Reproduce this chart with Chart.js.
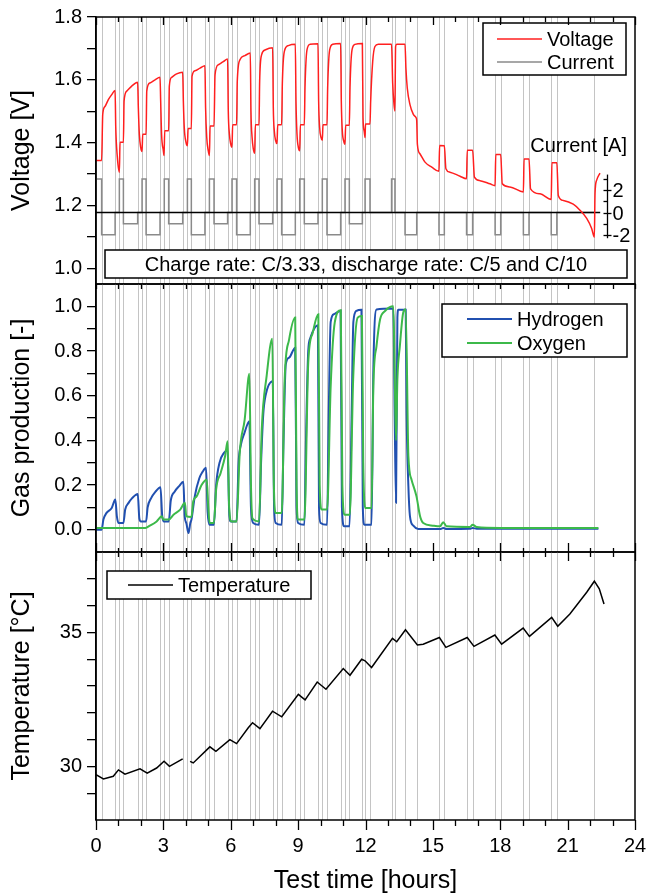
<!DOCTYPE html>
<html>
<head>
<meta charset="utf-8">
<script src="https://cdn.jsdelivr.net/npm/chart.js@4.4.1/dist/chart.umd.min.js"></script>
<style>
html, body { margin: 0; padding: 0; background: #fff; }
#wrap { position: relative; width: 647px; height: 896px; }
canvas { position: absolute; left: 0; top: 0; }
</style>
</head>
<body>
<div id="wrap">
  <canvas id="cVolt" width="647" height="896"></canvas>
  <canvas id="cGas" width="647" height="896"></canvas>
  <canvas id="cTemp" width="647" height="896"></canvas>
</div>
<script>
// ---- data (time in hours) ----
const hourTicks = [0,1,2,3,4,5,6,7,8,9,10,11,12,13,14,15,16,17,18,19,20,21,22,23,24];
const xLabelTicks = [0,3,6,9,12,15,18,21,24];

// step boundaries (grey vertical lines)
const stepTimes = [0.25,0.85,1.04,1.22,1.855,2.05,2.23,2.85,3.04,3.235,3.86,4.07,4.245,4.85,5.05,5.255,
  5.86,6.055,6.26,6.87,7.065,7.257,7.866,8.06,8.266,8.875,9.07,9.276,9.884,10.077,10.285,10.893,11.087,
  11.28,11.86,11.98,12.2,13.16,13.31,13.76,14.28,15.27,15.51,16.5,16.77,17.77,18.02,19.03,19.28,20.27,20.52,22.19];

const voltTicks = [1.0,1.1,1.2,1.3,1.4,1.5,1.6,1.7,1.8];
const gasTicks = [0.0,0.1,0.2,0.3,0.4,0.5,0.6,0.7,0.8,0.9,1.0];
const tempTicks = [29,30,31,32,33,34,35,36,37];
const tempLabels = [30,35];
const currentAxisTicks = [-2,-1,0,1,2,3];
const currentAxisLabels = [-2,0,2];

const voltage = [
  [0,1.343],[0.25,1.343],[0.30,1.49],[0.40,1.515],[0.55,1.537],[0.70,1.553],[0.85,1.566],
  [0.88,1.448],[0.95,1.354],[1.04,1.306],[1.07,1.401],[1.22,1.401],
  [1.25,1.532],[1.37,1.564],[1.59,1.580],[1.855,1.592],[1.885,1.511],[1.93,1.427],[1.99,1.385],[2.05,1.372],[2.08,1.427],[2.23,1.427],
  [2.26,1.564],[2.40,1.590],[2.63,1.600],[2.85,1.608],[2.88,1.532],[2.92,1.427],[3.00,1.374],[3.03,1.359],[3.06,1.438],[3.235,1.438],
  [3.265,1.580],[3.37,1.608],[3.59,1.619],[3.86,1.624],[3.89,1.532],[3.93,1.448],[4.01,1.400],[4.07,1.390],[4.10,1.445],[4.245,1.445],
  [4.275,1.611],[4.41,1.629],[4.63,1.637],[4.85,1.645],[4.88,1.511],[4.93,1.417],[5.00,1.374],[5.05,1.359],[5.08,1.453],[5.255,1.453],
  [5.30,1.616],[5.45,1.648],[5.67,1.658],[5.86,1.666],[5.89,1.501],[5.94,1.427],[6.00,1.395],[6.055,1.385],[6.085,1.457],[6.26,1.457],
  [6.29,1.595],[6.41,1.664],[6.63,1.677],[6.87,1.685],[6.90,1.501],[6.95,1.417],[7.005,1.380],[7.065,1.366],[7.095,1.457],[7.257,1.457],
  [7.287,1.595],[7.376,1.680],[7.524,1.695],[7.866,1.702],[7.895,1.511],[7.94,1.437],[8.00,1.406],[8.06,1.397],[8.09,1.457],[8.266,1.457],
  [8.296,1.585],[8.385,1.690],[8.563,1.709],[8.875,1.713],[8.905,1.532],[8.95,1.427],[9.01,1.385],[9.07,1.374],[9.10,1.457],[9.276,1.457],
  [9.306,1.574],[9.394,1.695],[9.528,1.713],[9.884,1.715],[9.914,1.532],[9.958,1.448],[10.018,1.417],[10.077,1.408],[10.107,1.457],[10.285,1.457],
  [10.315,1.574],[10.404,1.695],[10.537,1.713],[10.893,1.716],[10.923,1.532],[10.968,1.437],[11.027,1.406],[11.087,1.395],[11.116,1.455],[11.28,1.455],
  [11.31,1.574],[11.40,1.695],[11.53,1.713],[11.86,1.716],[11.89,1.480],[11.94,1.437],[11.98,1.416],[12.0,1.459],[12.2,1.459],
  [12.23,1.532],[12.32,1.658],[12.42,1.706],[12.57,1.713],[13.16,1.713],[13.21,1.590],[13.27,1.521],[13.31,1.501],[13.34,1.706],[13.39,1.713],
  [13.76,1.713],[13.80,1.637],[13.86,1.574],[13.98,1.521],[14.13,1.490],[14.25,1.480],[14.28,1.471],
  [14.31,1.395],[14.43,1.364],[14.65,1.338],[14.95,1.322],[15.27,1.309],[15.30,1.391],[15.51,1.390],
  [15.58,1.317],[15.76,1.306],[16.21,1.293],[16.50,1.285],[16.53,1.376],[16.77,1.376],
  [16.85,1.290],[17.10,1.279],[17.54,1.269],[17.77,1.263],[17.80,1.362],[18.02,1.362],
  [18.09,1.269],[18.43,1.259],[19.03,1.243],[19.06,1.348],[19.28,1.348],
  [19.35,1.253],[19.77,1.237],[20.27,1.219],[20.30,1.336],[20.52,1.336],
  [20.585,1.232],[20.81,1.216],[21.25,1.204],[21.55,1.185],[21.85,1.159],[22.07,1.127],[22.19,1.099],
  [22.22,1.238],[22.29,1.280],[22.44,1.303]
];

const currentSteps = [
  [0,0],[0.25,3],[0.85,-2],[1.04,0],[1.22,3],[1.855,-1],[2.05,0],[2.23,3],[2.85,-2],[3.04,0],[3.235,3],[3.86,-1],[4.07,0],
  [4.245,3],[4.85,-2],[5.05,0],[5.255,3],[5.86,-1],[6.055,0],[6.26,3],[6.87,-2],[7.065,0],[7.257,3],[7.866,-1],[8.06,0],
  [8.266,3],[8.875,-2],[9.07,0],[9.276,3],[9.884,-1],[10.077,0],[10.285,3],[10.893,-2],[11.087,0],[11.28,3],[11.86,-1],[11.98,0],
  [12.2,3],[13.16,0],[13.31,3],[13.76,0],[14.28,-2],[15.27,0],[15.51,-2],[16.5,0],[16.77,-2],[17.77,0],[18.02,-2],[19.03,0],
  [19.28,-2],[20.27,0],[20.52,-2],[22.19,0]
];
const zeroLine = [[0,0],[22.45,0]];

const hydrogen = [
  [0,0],[0.25,0],[0.33,0.045],[0.47,0.075],[0.7,0.097],[0.86,0.135],[0.93,0.06],[1.0,0.03],[1.22,0.03],
  [1.3,0.09],[1.45,0.12],[1.6,0.14],[1.86,0.16],[1.93,0.05],[2.0,0.037],[2.23,0.037],
  [2.3,0.1],[2.45,0.14],[2.65,0.17],[2.87,0.19],[2.95,0.06],[3.03,0.037],[3.24,0.037],
  [3.33,0.13],[3.5,0.17],[3.7,0.195],[3.89,0.214],[3.95,0.06],[4.02,0.03],[4.12,-0.015],[4.2,0.03],[4.25,0.045],
  [4.4,0.15],[4.6,0.23],[4.75,0.26],[4.9,0.277],[4.97,0.08],[5.05,0.022],[5.25,0.022],
  [5.35,0.2],[5.5,0.3],[5.7,0.344],[5.86,0.356],[5.93,0.08],[6.0,0.037],[6.26,0.037],
  [6.35,0.3],[6.45,0.38],[6.6,0.43],[6.83,0.486],[6.9,0.1],[7.0,0.03],[7.26,0.022],
  [7.35,0.3],[7.45,0.52],[7.55,0.6],[7.87,0.665],[7.93,0.1],[8.0,0.03],[8.27,0.022],
  [8.35,0.4],[8.45,0.74],[8.6,0.77],[8.87,0.815],[8.93,0.1],[9.0,0.03],[9.28,0.022],
  [9.35,0.4],[9.45,0.8],[9.55,0.86],[9.88,0.915],[9.93,0.1],[10.0,0.03],[10.29,0.022],
  [10.36,0.5],[10.45,0.93],[10.6,0.965],[10.89,0.98],[10.95,0.1],[11.05,0.015],[11.29,0.015],
  [11.38,0.5],[11.46,0.93],[11.6,0.98],[11.82,0.985],[11.88,0.1],[11.95,0.022],[12.27,0.022],
  [12.35,0.717],[12.49,0.986],[13.24,0.99],[13.3,0.5],[13.36,0.12],[13.42,0.95],[13.46,0.985],[13.79,0.985],
  [13.83,0.523],[13.91,0.194],[13.98,0.06],[14.13,0.018],[14.35,0.003],[15.32,0.003],[15.46,0.007],[15.61,0.003],
  [16.65,0.004],[16.77,0.008],[16.95,0.004],[22.37,0.004]
];

const oxygen = [
  [0,0.008],[2.2,0.008],[2.4,0.018],[2.7,0.037],[2.93,0.06],[3.0,0.045],[3.24,0.045],[3.45,0.067],[3.75,0.09],[3.96,0.12],[4.02,0.06],[4.25,0.057],
  [4.33,0.127],[4.48,0.149],[4.7,0.2],[4.93,0.224],[5.0,0.1],[5.06,0.03],[5.25,0.03],
  [5.35,0.18],[5.55,0.254],[5.75,0.33],[5.86,0.396],[5.93,0.1],[6.03,0.037],[6.26,0.037],
  [6.4,0.344],[6.62,0.493],[6.83,0.698],[6.9,0.2],[6.97,0.05],[7.26,0.037],
  [7.38,0.448],[7.6,0.69],[7.85,0.855],[7.92,0.2],[8.0,0.075],[8.27,0.075],
  [8.4,0.673],[8.6,0.852],[8.87,0.95],[8.93,0.2],[9.0,0.045],[9.28,0.045],
  [9.45,0.747],[9.65,0.882],[9.9,0.964],[9.96,0.2],[10.05,0.09],[10.29,0.09],
  [10.45,0.643],[10.63,0.927],[10.9,0.982],[10.97,0.2],[11.07,0.067],[11.3,0.067],
  [11.45,0.673],[11.65,0.949],[11.84,0.957],[11.9,0.3],[12.0,0.097],[12.27,0.097],
  [12.35,0.643],[12.49,0.822],[12.65,0.942],[12.87,0.979],[13.24,1.0],[13.3,0.7],[13.36,0.4],[13.42,0.673],[13.53,0.822],[13.68,0.972],[13.79,0.987],
  [13.91,0.33],[14.05,0.224],[14.27,0.149],[14.43,0.06],[14.57,0.03],[15.0,0.018],[15.32,0.015],[15.46,0.033],[15.61,0.015],
  [16.65,0.012],[16.77,0.022],[16.95,0.012],[18.0,0.008],[22.37,0.008]
];

const temperature = [
  [0,29.69],[0.33,29.53],[0.77,29.63],[1.0,29.87],[1.29,29.71],[1.96,29.91],[2.28,29.75],[2.7,29.94],[3.03,30.19],[3.27,30.0],[3.86,30.28],
  [4.0,null],
  [4.19,30.19],[4.33,30.13],[5.07,30.73],[5.34,30.56],[5.96,31.0],[6.26,30.85],[6.78,31.44],[6.97,31.63],[7.3,31.41],
  [7.86,32.06],[8.27,31.85],[9.01,32.69],[9.31,32.48],[9.85,33.15],[10.24,32.88],[11.01,33.65],[11.31,33.4],[11.83,34.0],
  [11.98,33.94],[12.27,33.69],[13.2,34.78],[13.39,34.65],[13.78,35.1],[14.31,34.53],[14.57,34.56],[15.29,34.81],[15.58,34.44],
  [16.53,34.81],[16.83,34.48],[17.76,34.9],[18.06,34.56],[19.02,35.16],[19.3,34.85],[20.29,35.56],[20.56,35.23],[21.1,35.69],
  [21.85,36.5],[22.19,36.91],[22.41,36.63],[22.62,36.06]
];

// ---- drawing ----
const FONT = "'Liberation Sans', Arial, Helvetica, sans-serif";
Chart.defaults.font.family = FONT;
Chart.defaults.color = '#000';

const RED = '#ff1f1f', GREY = '#8a8a8a', BLUE = '#2150b0', GREEN = '#3cb94a';

function xy(p) { return { x: p[0], y: p[1] }; }

function drawBox(ctx, b) {
  const [x0, y0, x1, y1] = b.box;
  ctx.fillStyle = '#fff';
  ctx.fillRect(x0, y0, x1 - x0, y1 - y0);
  ctx.strokeStyle = '#000';
  ctx.lineWidth = 1.5;
  ctx.strokeRect(x0, y0, x1 - x0, y1 - y0);
}

function drawLegend(chart, lg) {
  const ctx = chart.ctx;
  drawBox(ctx, lg);
  ctx.font = '20px ' + FONT;
  ctx.textAlign = 'left';
  ctx.textBaseline = 'middle';
  lg.rows.forEach(r => {
    const ds = chart.data.datasets[r.ds];
    ctx.strokeStyle = ds.borderColor;
    ctx.lineWidth = ds.borderWidth;
    ctx.beginPath();
    ctx.moveTo(lg.line[0], r.y);
    ctx.lineTo(lg.line[1], r.y);
    ctx.stroke();
    ctx.fillStyle = '#000';
    ctx.fillText(ds.label, lg.textX, r.y + 1);
  });
}

function framePlugin(cfg) {
  return {
    id: 'frame',
    beforeDatasetsDraw(chart) {
      const { ctx, chartArea: a, scales: { x } } = chart;
      ctx.save();
      ctx.strokeStyle = '#c4c4c4';
      ctx.lineWidth = 1;
      stepTimes.forEach(t => {
        const px = Math.round(x.getPixelForValue(t)) + 0.5;
        ctx.beginPath();
        ctx.moveTo(px, a.top);
        ctx.lineTo(px, a.bottom);
        ctx.stroke();
      });
      ctx.restore();
    },
    afterDatasetsDraw(chart) {
      const { ctx, chartArea: a, scales: { x } } = chart;
      ctx.save();
      if (cfg.textBox) {
        drawBox(ctx, cfg.textBox);
        ctx.fillStyle = '#000';
        ctx.font = '20px ' + FONT;
        ctx.textAlign = 'center';
        ctx.textBaseline = 'middle';
        const [x0, y0, x1, y1] = cfg.textBox.box;
        ctx.fillText(cfg.textBox.text, (x0 + x1) / 2, (y0 + y1) / 2 + 1);
      }
      if (cfg.legend) drawLegend(chart, cfg.legend);

      ctx.strokeStyle = '#000';
      ctx.lineWidth = 1.5;
      ctx.strokeRect(a.left, a.top, a.right - a.left, a.bottom - a.top);

      ctx.lineWidth = 1.3;
      cfg.xTicks.forEach(tk => {
        const y0 = tk.edge === 'top' ? a.top : a.bottom;
        hourTicks.forEach(h => {
          const px = Math.round(x.getPixelForValue(h)) + 0.5;
          const len = xLabelTicks.includes(h) ? tk.major : tk.minor;
          ctx.beginPath();
          ctx.moveTo(px, y0);
          ctx.lineTo(px, y0 + tk.dir * len);
          ctx.stroke();
        });
      });

      if (cfg.currentAxis) {
        const yI = chart.scales.yI;
        const ax = 607.5;
        ctx.strokeStyle = '#000';
        ctx.lineWidth = 1.3;
        ctx.beginPath();
        ctx.moveTo(ax, yI.getPixelForValue(3.4));
        ctx.lineTo(ax, yI.getPixelForValue(-2.3));
        ctx.stroke();
        ctx.font = '20px ' + FONT;
        ctx.fillStyle = '#000';
        ctx.textAlign = 'left';
        ctx.textBaseline = 'middle';
        currentAxisTicks.forEach(v => {
          const py = Math.round(yI.getPixelForValue(v)) + 0.5;
          const lab = currentAxisLabels.includes(v);
          ctx.beginPath();
          ctx.moveTo(ax - 4, py);
          ctx.lineTo(lab ? ax + 4 : ax, py);
          ctx.stroke();
          if (lab) ctx.fillText(String(v), ax + 5, py + 1);
        });
        ctx.textAlign = 'right';
        ctx.fillText('Current [A]', 627, 146);
      }
      ctx.restore();
    }
  };
}

function yAxis(min, max, ticks, labelFn, title) {
  return {
    type: 'linear', position: 'left', min: min, max: max,
    afterBuildTicks: s => { s.ticks = ticks.map(v => ({ value: v })); },
    afterFit: s => { s.width = 96; },
    ticks: { callback: labelFn, font: { size: 20 }, color: '#000', padding: 5, autoSkip: false },
    grid: { drawOnChartArea: false, drawTicks: true, tickLength: 9, color: '#000', lineWidth: 1.3 },
    border: { display: true, color: '#000', width: 1.5 },
    title: { display: true, text: title, font: { size: 25 }, color: '#000', padding: { top: 7, bottom: 0 } }
  };
}

function xAxis(show) {
  const axis = {
    type: 'linear', min: 0, max: 24, display: show,
    afterBuildTicks: s => { s.ticks = xLabelTicks.map(v => ({ value: v })); },
    ticks: { font: { size: 20 }, color: '#000', padding: 0, maxRotation: 0, autoSkip: false },
    grid: { display: false, drawTicks: true, tickLength: 14 },
    border: { display: false },
    title: { display: true, text: 'Test time [hours]', font: { size: 25 }, color: '#000', padding: { top: 0, bottom: 0 } }
  };
  if (show) axis.afterFit = s => { s.height = 76; };
  return axis;
}

function baseOptions(padTop, padBottom) {
  return {
    responsive: false, animation: false, devicePixelRatio: 1,
    layout: { padding: { left: 0, right: 12, top: padTop, bottom: padBottom } },
    plugins: { legend: { display: false }, tooltip: { enabled: false } },
    elements: { point: { radius: 0 }, line: { tension: 0 } }
  };
}

// panel 1: voltage and current
const opt1 = baseOptions(15, 896 - 284);
opt1.scales = {
  x: xAxis(false),
  y: yAxis(0.95, 1.8, voltTicks, (v, i) => (i % 2 === 0 ? v.toFixed(1) : ''), 'Voltage [V]'),
  yI: { type: 'linear', display: false, min: -6.4, max: 17.51 }
};
new Chart(document.getElementById('cVolt'), {
  type: 'line',
  data: { datasets: [
    { label: 'Voltage', data: voltage.map(xy), borderColor: RED, borderWidth: 1.5, yAxisID: 'y', cubicInterpolationMode: 'monotone' },
    { label: 'zero', data: zeroLine.map(xy), borderColor: '#000', borderWidth: 1.6, yAxisID: 'yI' },
    { label: 'Current', data: currentSteps.map(xy), borderColor: GREY, borderWidth: 1.5, stepped: 'after', yAxisID: 'yI' }
  ] },
  options: opt1,
  plugins: [framePlugin({
    xTicks: [{ edge: 'top', dir: 1, major: 8, minor: 5 }],
    legend: { box: [483, 23, 626, 75], line: [497, 542], textX: 547, rows: [{ ds: 0, y: 39 }, { ds: 2, y: 62 }] },
    textBox: { box: [105, 250, 627, 278], text: 'Charge rate: C/3.33, discharge rate: C/5 and C/10' },
    currentAxis: true
  })]
});

// panel 2: gas production (oxygen drawn over hydrogen)
const opt2 = baseOptions(284, 896 - 552);
opt2.scales = {
  x: xAxis(false),
  y: yAxis(-0.1, 1.1, gasTicks, (v, i) => (i % 2 === 0 ? v.toFixed(1) : ''), 'Gas production [-]')
};
new Chart(document.getElementById('cGas'), {
  type: 'line',
  data: { datasets: [
    { label: 'Hydrogen', data: hydrogen.map(xy), borderColor: BLUE, borderWidth: 2, order: 2, cubicInterpolationMode: 'monotone' },
    { label: 'Oxygen', data: oxygen.map(xy), borderColor: GREEN, borderWidth: 2, order: 1, cubicInterpolationMode: 'monotone' }
  ] },
  options: opt2,
  plugins: [framePlugin({
    xTicks: [{ edge: 'top', dir: 1, major: 5, minor: 5 }, { edge: 'bottom', dir: -1, major: 9, minor: 4 }],
    legend: { box: [442, 304, 627, 357], line: [467, 512], textX: 517, rows: [{ ds: 0, y: 319 }, { ds: 1, y: 343 }] }
  })]
});

// panel 3: temperature
const opt3 = baseOptions(552, 0);
opt3.scales = {
  x: xAxis(true),
  y: yAxis(28, 38, tempTicks, v => (tempLabels.includes(v) ? String(v) : ''), 'Temperature [°C]')
};
new Chart(document.getElementById('cTemp'), {
  type: 'line',
  data: { datasets: [
    { label: 'Temperature', data: temperature.map(xy), borderColor: '#000', borderWidth: 1.5, spanGaps: false }
  ] },
  options: opt3,
  plugins: [framePlugin({
    xTicks: [{ edge: 'top', dir: 1, major: 9, minor: 5 }, { edge: 'bottom', dir: 1, major: 10, minor: 6 }],
    legend: { box: [107, 571, 311, 599], line: [128, 173], textX: 178, rows: [{ ds: 0, y: 585 }] }
  })]
});
</script>
</body>
</html>
